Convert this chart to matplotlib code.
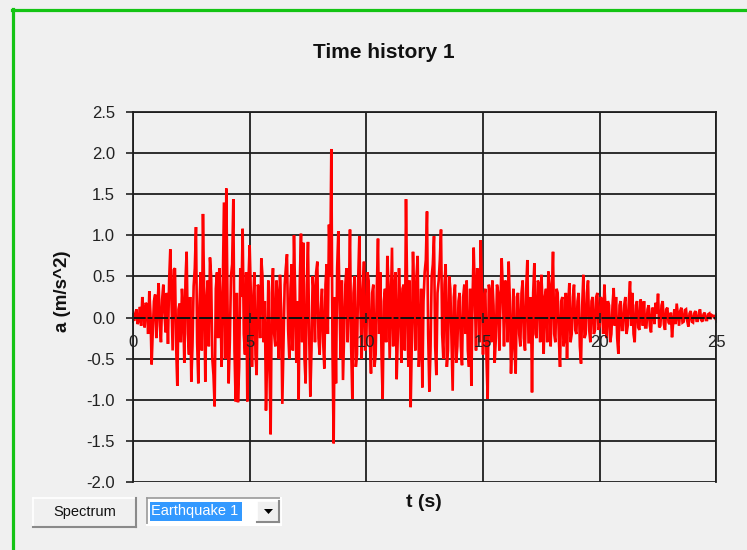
import matplotlib
matplotlib.use("Agg")
import matplotlib.pyplot as plt
import matplotlib.patches as mpatches
from matplotlib.lines import Line2D
import numpy as np

plt.rcParams["font.family"] = ["Liberation Sans", "DejaVu Sans"]

DT = 0.05
accel = [
    0.00, -0.04, 0.05, 0.10, -0.08, -0.03, 0.13, -0.10, 0.25, 0.08,
    -0.12, 0.18, 0.15, -0.20, 0.32, 0.05, -0.57, -0.15, 0.20, 0.28,
    -0.25, 0.15, 0.42, -0.10, -0.30, 0.22, 0.40, 0.05, -0.18, 0.30,
    -0.32, 0.45, 0.83, 0.20, -0.40, 0.58, 0.60, -0.35, -0.83, 0.10,
    0.17, -0.30, 0.35, 0.10, -0.55, 0.45, 0.80, -0.20, -0.45, 0.25,
    -0.78, -0.35, 0.38, 0.60, 1.10, -0.30, -0.80, 0.15, 0.55, -0.40,
    1.26, 0.30, -0.78, 0.20, 0.45, -0.35, 0.73, 0.50, -0.50, -0.70,
    -1.08, 0.35, 0.55, -0.25, 0.60, 0.15, -0.60, 0.40, 1.40, -0.50,
    1.57, 0.20, -0.80, -0.30, 0.50, 0.65, 1.44, -0.40, -1.02, 0.30,
    -1.03, -0.60, 0.60, 0.25, 1.08, -0.20, -0.45, 0.55, -1.02, 0.45,
    0.88, 0.30, -0.60, 0.15, 0.55, -0.45, -0.70, 0.40, 0.35, -0.25,
    0.72, 0.50, -0.30, 0.20, -1.13, -0.50, 0.45, -0.60, -1.42, 0.30,
    0.60, -0.20, -0.35, 0.45, 0.25, -0.50, 0.52, 0.10, -1.05, -0.30,
    0.40, 0.60, 0.77, -0.15, -0.50, 0.35, 0.65, -0.40, 1.00, 0.30,
    -0.55, 0.20, -1.00, 0.45, 1.02, -0.30, 0.91, -0.50, -0.80, 0.40,
    0.92, -0.20, -0.96, -0.40, 0.50, 0.30, -0.30, 0.55, 0.68, -0.25,
    -0.45, 0.10, 0.35, -0.30, -0.62, 0.40, 0.65, -0.20, 1.13, 0.50,
    2.05, -0.40, -1.53, 0.25, -0.80, 0.60, 1.05, 0.20, -0.50, 0.45,
    -0.76, -0.20, 0.40, 0.60, -0.30, 0.25, 1.07, -0.35, -0.99, 0.30,
    0.50, -0.60, -0.45, 0.45, 0.99, 0.10, -0.50, 0.35, 0.68, -0.40,
    -0.30, 0.55, 0.45, -0.25, -0.68, 0.30, 0.40, -0.60, -0.45, 0.35,
    0.96, -0.20, 0.55, -0.45, -0.99, 0.20, 0.35, -0.30, 0.75, 0.40,
    -0.50, 0.20, 0.85, -0.35, 0.30, 0.55, -0.75, -0.20, 0.60, 0.15,
    -0.55, 0.35, 0.40, -0.40, 1.44, 0.30, -0.60, 0.45, -1.09, -0.30,
    0.80, 0.25, -0.40, 0.50, 0.75, -0.60, -0.30, 0.35, -0.85, 0.20,
    0.55, 0.70, 1.29, -0.20, -0.90, -0.40, 0.50, 0.65, 0.99, -0.35,
    -0.70, 0.30, 0.45, 0.70, 1.07, -0.20, -0.50, 0.40, 0.65, -0.60,
    -0.40, 0.50, 0.35, -0.30, -0.89, 0.25, 0.40, -0.55, -0.35, 0.20,
    0.30, -0.35, -0.58, 0.25, 0.40, -0.20, 0.45, -0.40, -0.60, 0.35,
    -0.83, 0.20, 0.85, 0.30, -0.40, 0.60, 0.50, -0.30, 0.94, 0.40,
    -0.45, 0.25, 0.35, -0.50, -0.99, 0.40, 0.30, -0.30, 0.45, 0.15,
    -0.55, -0.25, 0.40, 0.30, -0.40, 0.20, 0.72, 0.35, -0.35, 0.45,
    0.40, -0.30, 0.68, 0.20, -0.68, -0.25, 0.35, -0.40, -0.68, 0.25,
    0.30, -0.20, -0.35, 0.30, 0.45, -0.25, -0.40, 0.35, 0.70, -0.30,
    -0.30, 0.25, -0.91, 0.30, 0.66, -0.20, -0.25, 0.45, 0.40, -0.30,
    0.52, 0.20, -0.44, 0.25, 0.35, -0.30, 0.56, 0.40, -0.35, 0.30,
    0.80, -0.20, -0.30, 0.35, 0.30, -0.25, -0.60, 0.20, 0.25, -0.35,
    -0.25, 0.30, -0.50, 0.15, 0.42, -0.30, -0.20, 0.25, 0.40, -0.15,
    -0.20, 0.20, 0.30, -0.35, -0.56, 0.15, 0.52, -0.25, -0.20, 0.30,
    0.45, -0.15, -0.30, 0.20, 0.25, -0.20, -0.15, 0.25, 0.30, -0.15,
    -0.10, 0.25, 0.20, -0.20, 0.40, 0.10, -0.25, 0.20, 0.15, -0.30,
    -0.20, 0.15, 0.36, -0.10, 0.25, -0.25, -0.44, 0.15, 0.20, -0.15,
    -0.15, 0.15, 0.25, -0.20, -0.10, 0.20, 0.44, -0.10, 0.30, -0.20,
    -0.30, 0.15, 0.20, -0.12, -0.15, 0.22, 0.15, -0.10, 0.20, -0.12,
    -0.12, 0.10, 0.15, -0.10, -0.18, 0.12, 0.10, -0.08, 0.18, 0.05,
    0.29, -0.12, -0.10, 0.15, 0.20, -0.08, -0.15, 0.10, 0.12, -0.06,
    -0.08, 0.06, -0.24, -0.05, 0.10, -0.08, 0.17, 0.04, -0.10, 0.08,
    0.12, -0.06, -0.05, 0.09, 0.10, -0.04, -0.11, 0.05, 0.08, -0.05,
    -0.06, 0.05, 0.08, -0.04, -0.04, 0.06, 0.10, -0.03, -0.05, 0.04,
    0.06, -0.03, -0.03, 0.04, 0.05, -0.02, 0.03, 0.02, 0.02, -0.01,
    0.00,
]
x_ticks = [0, 5, 10, 15, 20, 25]
y_ticks = [-2.0, -1.5, -1.0, -0.5, 0.0, 0.5, 1.0, 1.5, 2.0, 2.5]

BG = "#f0f0f0"
GRID = "#1e1e1e"

t = np.arange(len(accel)) * DT

fig = plt.figure(figsize=(7.47, 5.5), dpi=100, facecolor=BG)
ax = fig.add_axes([0.178, 0.1236, 0.781, 0.6728])
ax.set_facecolor(BG)
ax.set_axisbelow(False)  # tick labels on the zero line sit over the trace

# grid drawn by hand so it stays under the trace
for yv in y_ticks:
    if yv != 0:
        ax.axhline(yv, color=GRID, lw=1.3, zorder=1)
for xv in x_ticks:
    ax.axvline(xv, color=GRID, lw=1.3, zorder=1)

ax.plot(t, accel, color="#ff0000", lw=1.9, zorder=2, solid_joinstyle="miter")

ax.set_xlim(0, 25)
ax.set_ylim(-2.0, 2.5)
ax.set_xticks(x_ticks)
ax.set_xticklabels([str(v) for v in x_ticks])
ax.set_yticks(y_ticks)
ax.set_yticklabels([f"{v:.1f}" for v in y_ticks])

ax.spines["bottom"].set_position(("data", 0))
ax.spines["bottom"].set_linestyle((0, (6, 2, 1.5, 2)))
ax.spines["bottom"].set_linewidth(1.4)
ax.spines["bottom"].set_color("#111111")
for side in ["left", "right", "top"]:
    ax.spines[side].set_color(GRID)
    ax.spines[side].set_linewidth(1.3)

ax.tick_params(axis="x", direction="inout", length=7, width=1.2, pad=9,
               labelsize=12, colors="#222222")
ax.tick_params(axis="y", direction="out", length=5, width=1.2, pad=8,
               labelsize=12, colors="#222222")

fig.text(0.5137, 0.904, "Time history 1", ha="center", va="center",
         fontsize=15, fontweight="bold", color="#111111")
fig.text(0.083, 0.471, "a (m/s^2)", ha="center", va="center", rotation=90,
         fontsize=13.5, fontweight="bold", color="#111111")
fig.text(0.567, 0.087, "t (s)", ha="center", va="center",
         fontsize=14, fontweight="bold", color="#111111")

# overlay in pixel coordinates for the window frame and form controls
ov = fig.add_axes([0, 0, 1, 1], facecolor="none")
ov.set_xlim(0, 747)
ov.set_ylim(550, 0)
ov.axis("off")

green = "#14c414"
ov.add_line(Line2D([12.5, 12.5], [9, 550], color=green, lw=2.3))
ov.add_line(Line2D([11.5, 747], [9.5, 9.5], color=green, lw=2.3))


def bevel(x0, y0, x1, y1, light, dark, face):
    ov.add_patch(mpatches.Rectangle((x0, y0), x1 - x0, y1 - y0, facecolor=face,
                                    edgecolor="none"))
    ov.add_line(Line2D([x0, x1], [y0, y0], color=light, lw=1.2))
    ov.add_line(Line2D([x0, x0], [y0, y1], color=light, lw=1.2))
    ov.add_line(Line2D([x0, x1], [y1, y1], color=dark, lw=1.5))
    ov.add_line(Line2D([x1, x1], [y0, y1], color=dark, lw=1.5))


# Spectrum button
bevel(33, 498, 136, 527, "#ffffff", "#8a8a8a", "#f0f0f0")
ov.text(85, 512, "Spectrum", ha="center", va="center", fontsize=10.5, color="#111111")

# Earthquake dropdown
bevel(147, 498, 281, 525, "#9a9a9a", "#ffffff", "#ffffff")
ov.add_patch(mpatches.Rectangle((150, 502), 92, 19, facecolor="#3399ff", edgecolor="none"))
ov.text(151, 511.5, "Earthquake 1", ha="left", va="center", fontsize=10.5, color="#ffffff")
bevel(257, 501, 279, 522, "#ffffff", "#8a8a8a", "#f0f0f0")
ov.add_patch(mpatches.Polygon([[264, 509], [273, 509], [268.5, 514]], closed=True,
                              facecolor="#000000", edgecolor="none"))

fig.savefig("out.png", dpi=100, facecolor=BG)
